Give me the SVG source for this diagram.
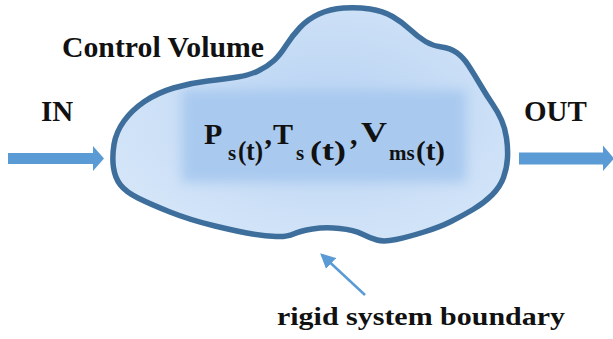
<svg xmlns="http://www.w3.org/2000/svg" width="613" height="339" viewBox="0 0 613 339">
  <style>
    text { font-family: 'Liberation Serif', 'Times New Roman', Times, serif; font-weight: 700; fill: #111; }
    .flow { fill: #5b9bd5; }
    .ptr { stroke: #5b9bd5; stroke-width: 2.5; fill: none; }
  </style>
  <defs>
    <path id="blobPath" d="M113.5,167.5 Q112,157 114,144.5 Q116,132 124,121 Q132,110 144.5,101.5 Q157,93 173.5,88 Q190,83 207.5,81 Q225,79 237.5,77 Q250,75 259,70.5 Q268,66 274,60.5 Q280,55 286,45.5 Q292,36 300,27.5 Q308,19 319,14 Q330,9 343.5,8 Q357,7 370,9 Q383,11 392.5,16.5 Q402,22 410,29.5 Q418,37 425.5,41.5 Q433,46 441.5,47 Q450,48 456.5,52.5 Q463,57 468.5,65.5 Q474,74 480.5,85 Q487,96 492.5,104 Q498,112 501.5,120 Q505,128 506.5,138 Q508,148 507.5,158 Q507,168 503.5,177.5 Q500,187 492,195 Q484,203 473,209.5 Q462,216 451,221.5 Q440,227 424,232 Q408,237 396,239.5 Q384,242 377,240 Q370,238 362,234 Q354,230 339.5,228.5 Q325,227 312.5,229 Q300,231 293.5,234 Q287,237 276,236.5 Q265,236 252.5,234 Q240,232 215,226 Q190,220 170,212 Q150,204 138,198 Q126,192 120.5,185 Q115,178 113.5,167.5 Z"/>
    <clipPath id="blobClip"><use href="#blobPath"/></clipPath>
    <radialGradient id="blobFill" cx="0.55" cy="0.45" r="0.6">
      <stop offset="0" stop-color="#b8d3f3"/>
      <stop offset="1" stop-color="#d4e5f8"/>
    </radialGradient>
    <filter id="soft" x="-20%" y="-40%" width="140%" height="180%">
      <feGaussianBlur stdDeviation="6"/>
    </filter>
    <marker id="ptrHead" markerWidth="6" markerHeight="6" refX="5" refY="3" orient="auto" markerUnits="strokeWidth">
      <path d="M0,0 L6,3 L0,6 Z" fill="#5b9bd5"/>
    </marker>
  </defs>

  <g id="control-volume">
    <use href="#blobPath" fill="url(#blobFill)"/>
    <g clip-path="url(#blobClip)">
      <rect x="182" y="90" width="284" height="92" fill="#a9c9ef" filter="url(#soft)"/>
    </g>
    <use href="#blobPath" fill="none" stroke="#3e6f9c" stroke-width="5.5" stroke-linejoin="round"/>
  </g>

  <g id="state-label">
    <text font-size="30" x="204" y="144">P</text>
    <text font-size="21" x="228" y="160">s</text>
    <text font-size="28" x="238" y="160" textLength="25" lengthAdjust="spacingAndGlyphs">(t)</text>
    <text font-size="30" x="264.5" y="144">,</text>
    <text font-size="30" x="273" y="144">T</text>
    <text font-size="21" x="296" y="160">s</text>
    <text font-size="28" x="310" y="160" textLength="36" lengthAdjust="spacingAndGlyphs">(t)</text>
    <text font-size="30" x="350" y="144">,</text>
    <text font-size="30" x="361" y="142" textLength="26" lengthAdjust="spacingAndGlyphs">V</text>
    <text font-size="21" x="389" y="160">ms</text>
    <text font-size="28" x="416" y="160" textLength="29" lengthAdjust="spacingAndGlyphs">(t)</text>
  </g>

  <g id="control-volume-label">
    <text x="62" y="57" font-size="29" textLength="202" lengthAdjust="spacingAndGlyphs">Control Volume</text>
  </g>
  <g id="in-label">
    <text x="41" y="121" font-size="29">IN</text>
  </g>
  <g id="out-label">
    <text x="524" y="121" font-size="29">OUT</text>
  </g>
  <g id="boundary-label">
    <text x="277" y="325" font-size="25" textLength="288" lengthAdjust="spacingAndGlyphs">rigid system boundary</text>
  </g>

  <g id="connectors">
    <polygon id="in-arrow" class="flow" points="8,153 93,153 93,146 104,158.5 93,171 93,164 8,164"/>
    <polygon id="out-arrow" class="flow" points="519,152.5 603,152.5 603,145.5 614,158.5 603,171 603,164.5 519,164.5"/>
    <line id="boundary-pointer" class="ptr" x1="365" y1="295" x2="322" y2="255" marker-end="url(#ptrHead)"/>
  </g>
</svg>
